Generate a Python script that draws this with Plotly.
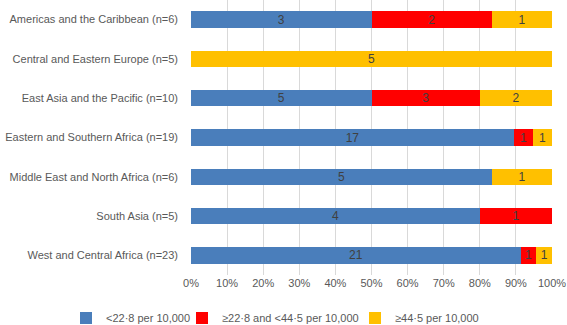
import plotly.graph_objects as go

regions = ["Americas and the Caribbean (n=6)", "Central and Eastern Europe (n=5)",
           "East Asia and the Pacific (n=10)", "Eastern and Southern Africa (n=19)",
           "Middle East and North Africa (n=6)", "South Asia (n=5)",
           "West and Central Africa (n=23)"]
low = [3, 0, 5, 17, 5, 4, 21]
mid = [2, 0, 3, 1, 0, 1, 1]
high = [1, 5, 2, 1, 1, 0, 1]
series_names = ["<22·8 per 10,000", "≥22·8 and <44·5 per 10,000", "≥44·5 per 10,000"]
colors = ["#4a7ebb", "#ff0000", "#ffc000"]
tick_vals = [0, 10, 20, 30, 40, 50, 60, 70, 80, 90, 100]
tick_text = ["0%", "10%", "20%", "30%", "40%", "50%", "60%", "70%", "80%", "90%", "100%"]

totals = [a + b + c for a, b, c in zip(low, mid, high)]
legend_ids = ["legend", "legend2", "legend3"]
legend_x = [66, 182, 355]

fig = go.Figure()
for name, vals, col, lid in zip(series_names, [low, mid, high], colors, legend_ids):
    pct = [v / t * 100 for v, t in zip(vals, totals)]
    fig.add_trace(go.Bar(
        y=regions, x=pct, orientation="h", name=name, legend=lid,
        marker=dict(color=col, line=dict(width=0)),
        text=[str(v) if v > 0 else "" for v in vals],
        textposition="inside", insidetextanchor="middle", textangle=0,
        constraintext="none",
        textfont=dict(color="#404040", size=12, family="Liberation Sans"),
        hoverinfo="skip",
    ))

W, H = 567, 325
leg_common = dict(orientation="h", xref="container", xanchor="left",
                  yref="container", y=1 - 318 / H, yanchor="middle",
                  font=dict(size=11, color="#595959"), itemwidth=30,
                  bgcolor="rgba(0,0,0,0)")
fig.update_layout(
    barmode="stack", bargap=0.58,
    width=W, height=H,
    margin=dict(l=191, r=15, t=0, b=50, autoexpand=False),
    paper_bgcolor="white", plot_bgcolor="white",
    font=dict(family="Liberation Sans", size=11, color="#595959"),
    uniformtext=dict(minsize=12, mode="show"),
    showlegend=True,
    legend=dict(x=legend_x[0] / W, **leg_common),
    legend2=dict(x=legend_x[1] / W, **leg_common),
    legend3=dict(x=legend_x[2] / W, **leg_common),
)
fig.update_xaxes(range=[0, 100], tickvals=tick_vals, ticktext=tick_text,
                 showgrid=True, gridcolor="#d9d9d9", gridwidth=1, automargin=False,
                 zeroline=False, showline=False, ticks="", fixedrange=True,
                 tickfont=dict(size=11, color="#595959"))
fig.update_yaxes(autorange="reversed", showgrid=False, ticks="", showline=False,
                 automargin=False,
                 ticklabelstandoff=12, tickfont=dict(size=11, color="#595959"))

fig.write_html("out.html", config={"displayModeBar": False},
               post_script="document.body.style.margin='0';")
